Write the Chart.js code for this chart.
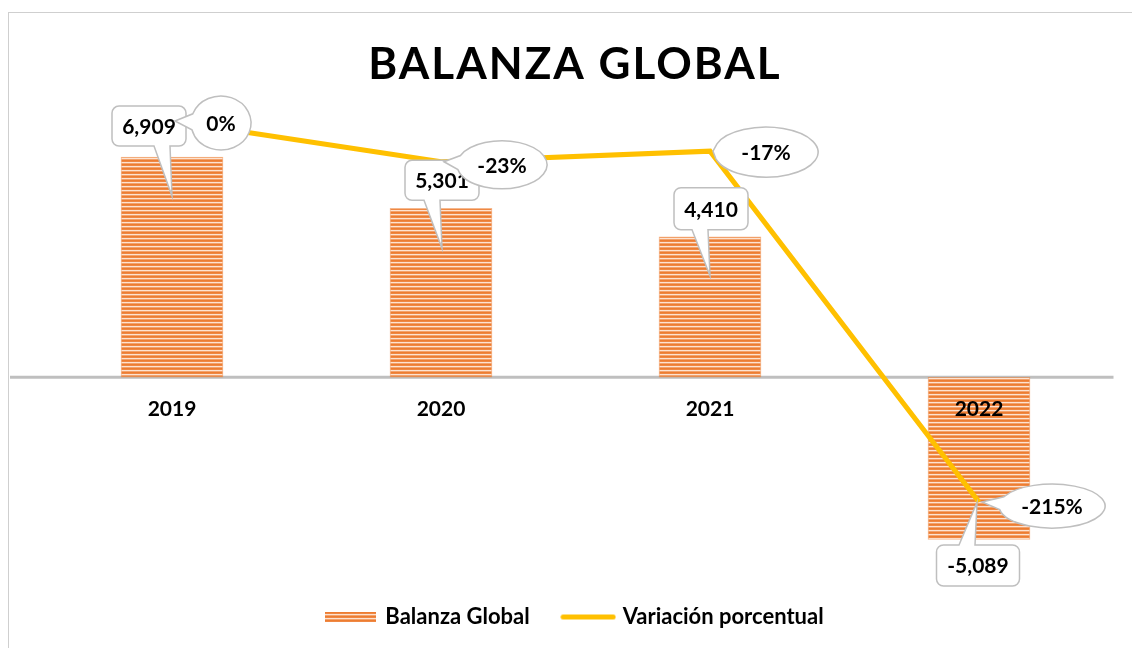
<!DOCTYPE html>
<html>
<head>
<meta charset="utf-8">
<script src="https://cdn.jsdelivr.net/npm/chart.js@4.4.1/dist/chart.umd.min.js"></script>
<style>
    html, body { margin: 0; padding: 0; background: #fff; overflow: hidden; }
    #frame { position: absolute; left: 8px; top: 12px; width: 1200px; height: 700px; border-top: 1px solid #cfcfcf; border-left: 1px solid #cfcfcf; }
    #wrap { position: absolute; left: 0; top: 0; width: 1132px; height: 648px; }
</style>
</head>
<body>
<div id="frame"></div>
<div id="wrap"><canvas id="balanzaChart" width="1132" height="648"></canvas></div>
<script>
const years = ['2019', '2020', '2021', '2022'];
const balanza = [6909, 5301, 4410, -5089];
const variacion = [0, -0.23, -0.17, -2.15];
const seriesNames = ['Variación porcentual', 'Balanza Global'];
const chartTitle = 'BALANZA GLOBAL';

const FONT = 'Lato, "Open Sans", sans-serif';

// striped orange fill like the excel bars
function stripes() {
    const c = document.createElement('canvas');
    c.width = 4; c.height = 4;
    const g = c.getContext('2d');
    const rows = ['#ed7d31', '#ef8844', '#fde3d1', '#f3a26c'];
    rows.forEach((col, i) => { g.fillStyle = col; g.fillRect(0, i, 4, 1); });
    return g.createPattern(c, 'repeat');
}
const barFill = stripes();

function swatchBar() {
    const c = document.createElement('canvas');
    c.width = 51; c.height = 10;
    const g = c.getContext('2d');
    g.fillStyle = barFill;
    g.fillRect(0, 0, 51, 10);
    return c;
}
function swatchLine() {
    const c = document.createElement('canvas');
    c.width = 56; c.height = 7;
    const g = c.getContext('2d');
    g.strokeStyle = '#ffc000';
    g.lineWidth = 5;
    g.lineCap = 'round';
    g.beginPath(); g.moveTo(3, 3.5); g.lineTo(53, 3.5); g.stroke();
    return c;
}

function boxPath(ctx, x, y, w, h, r, tx, ty) {
    const below = ty > y + h;
    const b1 = Math.max(x + r, Math.min(tx - 18, x + w - r - 16));
    const b2 = b1 + 16;
    ctx.beginPath();
    ctx.moveTo(x + r, y);
    if (!below) { ctx.lineTo(b1, y); ctx.lineTo(tx, ty); ctx.lineTo(b2, y); }
    ctx.lineTo(x + w - r, y);
    ctx.arcTo(x + w, y, x + w, y + r, r);
    ctx.lineTo(x + w, y + h - r);
    ctx.arcTo(x + w, y + h, x + w - r, y + h, r);
    if (below) { ctx.lineTo(b2, y + h); ctx.lineTo(tx, ty); ctx.lineTo(b1, y + h); }
    ctx.lineTo(x + r, y + h);
    ctx.arcTo(x, y + h, x, y + h - r, r);
    ctx.lineTo(x, y + r);
    ctx.arcTo(x, y, x + r, y, r);
    ctx.closePath();
}

function ovalPath(ctx, cx, cy, rx, ry, tx, ty) {
    const phi = Math.atan2((ty - cy) / ry, (tx - cx) / rx);
    const a = 0.3;
    ctx.beginPath();
    ctx.moveTo(tx, ty);
    ctx.lineTo(cx + rx * Math.cos(phi + a), cy + ry * Math.sin(phi + a));
    ctx.ellipse(cx, cy, rx, ry, 0, phi + a, phi - a + 2 * Math.PI);
    ctx.closePath();
}

const calloutPlugin = {
    id: 'callouts',
    beforeDatasetsDraw(chart, args, opts) {
        // zero axis line, a bit longer on the left like the excel plot area
        const ctx = chart.ctx;
        const y0 = chart.scales.y.getPixelForValue(0);
        ctx.save();
        ctx.strokeStyle = '#bfbfbf';
        ctx.lineWidth = 3;
        ctx.beginPath();
        ctx.moveTo(chart.chartArea.left - opts.axisOverhang, y0);
        ctx.lineTo(chart.chartArea.right, y0);
        ctx.stroke();
        ctx.restore();
    },
    afterDatasetsDraw(chart, args, opts) {
        const ctx = chart.ctx;
        const lineMeta = chart.getDatasetMeta(0);
        const barMeta = chart.getDatasetMeta(1);
        ctx.save();
        ctx.font = 'bold 21px ' + FONT;
        ctx.textAlign = 'center';
        ctx.textBaseline = 'middle';
        ctx.lineWidth = 1.5;
        ctx.strokeStyle = '#bfbfbf';

        barMeta.data.forEach((bar, i) => {
            const s = opts.boxes[i];
            const cx = bar.x + s.dx, cy = bar.y + s.dy;
            boxPath(ctx, cx - s.w / 2, cy - s.h / 2, s.w, s.h, 7, bar.x + s.tipDx, bar.y + s.tipDy);
            ctx.fillStyle = '#fff';
            ctx.fill();
            ctx.stroke();
            ctx.fillStyle = '#000';
            ctx.fillText(balanza[i].toLocaleString('en-US'), cx, cy + 1);
        });

        lineMeta.data.forEach((pt, i) => {
            const s = opts.ovals[i];
            const cx = pt.x + s.dx, cy = pt.y + s.dy;
            ovalPath(ctx, cx, cy, s.rx, s.ry, pt.x + 3, pt.y);
            ctx.fillStyle = '#fff';
            ctx.fill();
            ctx.stroke();
            ctx.fillStyle = '#000';
            ctx.fillText(Math.round(variacion[i] * 100) + '%', cx, cy + 1);
        });
        ctx.restore();
    },
    afterDraw(chart) {
        const ctx = chart.ctx;
        ctx.save();
        ctx.font = 'bold 44px ' + FONT;
        ctx.letterSpacing = '2px';
        ctx.textAlign = 'center';
        ctx.textBaseline = 'alphabetic';
        ctx.fillStyle = '#000';
        ctx.fillText(chartTitle, 575, 79);
        ctx.restore();
    }
};

const ctx = document.getElementById('balanzaChart').getContext('2d');
const balanzaChart = new Chart(ctx, {
    type: 'bar',
    data: {
        labels: years,
        datasets: [{
            type: 'line',
            label: seriesNames[0],
            data: variacion,
            yAxisID: 'y2',
            borderColor: '#ffc000',
            backgroundColor: '#ffc000',
            borderWidth: 5,
            pointRadius: 0,
            tension: 0,
            order: 0
        }, {
            type: 'bar',
            label: seriesNames[1],
            data: balanza,
            yAxisID: 'y',
            backgroundColor: barFill,
            borderColor: 'rgba(237,125,49,0.55)',
            borderWidth: 1,
            borderSkipped: false,
            barThickness: 102,
            order: 1
        }]
    },
    options: {
        responsive: false,
        animation: false,
        layout: { padding: { left: 37.5, right: 18.5, top: 90, bottom: 10 } },
        plugins: {
            tooltip: { enabled: false },
            legend: {
                position: 'bottom',
                fullSize: false,
                reverse: true,
                labels: {
                    usePointStyle: true,
                    pointStyleWidth: 47,
                    padding: 35,
                    color: '#000',
                    font: { family: FONT, size: 22, weight: 'bold' },
                    generateLabels(chart) {
                        const items = Chart.defaults.plugins.legend.labels.generateLabels(chart);
                        items.forEach(it => {
                            it.pointStyle = it.datasetIndex === 1 ? swatchBar() : swatchLine();
                        });
                        return items;
                    }
                }
            },
            callouts: {
                axisOverhang: 27.5,
                boxes: [
                    { dx: -23, dy: -31, w: 74, h: 40, tipDx: 0, tipDy: 39 },
                    { dx: 1, dy: -28, w: 74, h: 40, tipDx: 1, tipDy: 40 },
                    { dx: 1, dy: -28, w: 74, h: 42, tipDx: 0, tipDy: 39 },
                    { dx: -1, dy: 26, w: 83, h: 41, tipDx: -2, tipDy: -37 }
                ],
                ovals: [
                    { dx: 49, dy: 2, rx: 30, ry: 27 },
                    { dx: 61, dy: 3, rx: 45, ry: 24 },
                    { dx: 56, dy: 1, rx: 52, ry: 25 },
                    { dx: 73, dy: 4, rx: 53, ry: 22 }
                ]
            }
        },
        scales: {
            x: {
                position: { y: 0 },
                grid: { display: false, drawTicks: false },
                border: { display: false },
                ticks: { z: 1, color: '#000', padding: 19, font: { family: FONT, size: 21, weight: 'bold' } }
            },
            y: { display: false, min: -6078, max: 9014 },
            y2: { display: false, min: -2.539, max: 0.175 }
        }
    },
    plugins: [calloutPlugin]
});
</script>
</body>
</html>
